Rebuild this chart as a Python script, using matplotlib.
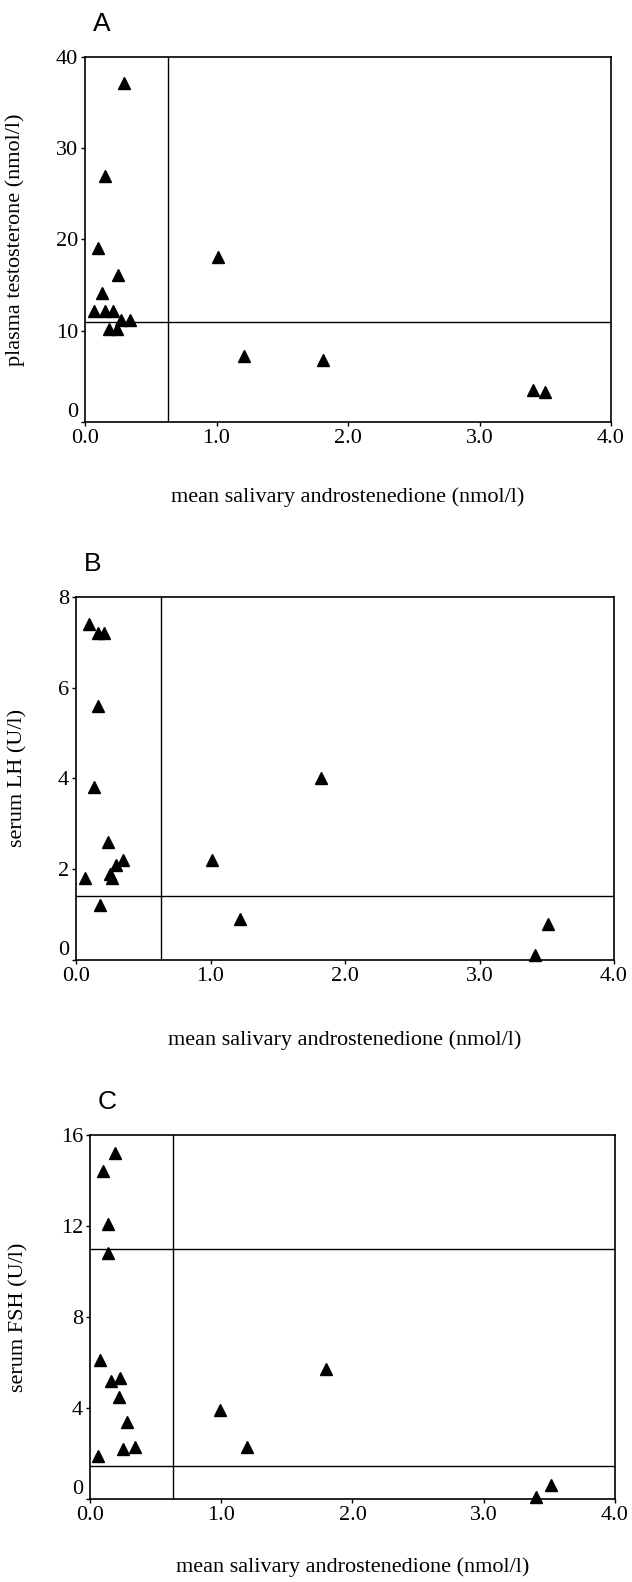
import matplotlib
matplotlib.use("Agg")
import matplotlib.pyplot as plt

# mean salivary androstenedione (nmol/l) and hormone values
x_testo = [0.30, 0.15, 0.10, 0.25, 0.13, 0.07, 0.15, 0.21, 0.18, 0.24, 0.27, 0.34,
           1.01, 1.21, 1.81, 3.41, 3.50]
testosterone = [37.1, 27.0, 19.1, 16.1, 14.1, 12.2, 12.2, 12.2, 10.2, 10.2, 11.2, 11.2,
                18.1, 7.2, 6.8, 3.5, 3.3]

x_lh = [0.10, 0.16, 0.21, 0.16, 0.13, 0.24, 0.35, 0.30, 0.25, 0.27, 0.07, 0.18,
        1.01, 1.82, 1.22, 3.51, 3.41]
lh = [7.4, 7.2, 7.2, 5.6, 3.8, 2.6, 2.2, 2.1, 1.9, 1.8, 1.8, 1.2,
      2.2, 4.0, 0.9, 0.8, 0.1]

x_fsh = [0.19, 0.10, 0.14, 0.14, 0.08, 0.16, 0.23, 0.22, 0.28, 0.25, 0.34, 0.06,
         0.99, 1.20, 1.80, 3.51, 3.40]
fsh = [15.2, 14.4, 12.1, 10.8, 6.1, 5.2, 5.3, 4.5, 3.4, 2.2, 2.3, 1.9,
       3.9, 2.3, 5.7, 0.6, 0.1]

x_ticks = [0, 1, 2, 3, 4]
x_ticklabels = ["0.0", "1.0", "2.0", "3.0", "4.0"]

# cut-off lines
x_cut = 0.63
testo_cut = [11]
lh_cut = [1.4]
fsh_cut = [11, 1.45]

serif = "Liberation Serif"
sans = "Liberation Sans"
xlabel = "mean salivary androstenedione (nmol/l)"

fig = plt.figure(figsize=(6.32, 15.82), dpi=100)

panels = [
    # letter, x, y, ylim, yticks, ylabel, hlines, rect, ylabel x, xlabel y
    ("A", x_testo, testosterone, 40, [0, 10, 20, 30, 40], "plasma testosterone (nmol/l)",
     testo_cut, [0.1345, 0.7333, 0.8323, 0.2307], -0.115, -0.205),
    ("B", x_lh, lh, 8, [0, 2, 4, 6, 8], "serum LH (U/l)",
     lh_cut, [0.1203, 0.3932, 0.8513, 0.2295], -0.09, -0.22),
    ("C", x_fsh, fsh, 16, [0, 4, 8, 12, 16], "serum FSH (U/l)",
     fsh_cut, [0.1424, 0.0525, 0.8307, 0.2301], -0.118, -0.187),
]

for letter, xs, ys, ymax, yticks, ylabel, hlines, rect, ylx, xly in panels:
    ax = fig.add_axes(rect)
    ax.plot(xs, ys, linestyle="none", marker="^", ms=8, color="black", clip_on=False, zorder=3)
    ax.axvline(x_cut, color="black", lw=1.0)
    for h in hlines:
        ax.axhline(h, color="black", lw=1.0)
    ax.set_xlim(0, 4)
    ax.set_ylim(0, ymax)
    ax.set_xticks(x_ticks)
    ax.set_xticklabels(x_ticklabels, family=serif, fontsize=16)
    ax.set_yticks(yticks)
    ax.set_yticklabels([str(t) for t in yticks], family=serif, fontsize=16)
    ax.tick_params(direction="out", length=3, width=1, pad=2)
    ax.yaxis.get_major_ticks()[0].label1.set_va("bottom")
    for s in ax.spines.values():
        s.set_linewidth(1.2)
    ax.set_ylabel(ylabel, family=serif, fontsize=16)
    ax.yaxis.set_label_coords(ylx, 0.5)
    ax.set_xlabel(xlabel, family=serif, fontsize=16, va="center")
    ax.xaxis.set_label_coords(0.5, xly)
    ax.text(0.015, 1.09, letter, transform=ax.transAxes, family=sans, fontsize=19,
            ha="left", va="center")

fig.savefig("out.png", dpi=100)
